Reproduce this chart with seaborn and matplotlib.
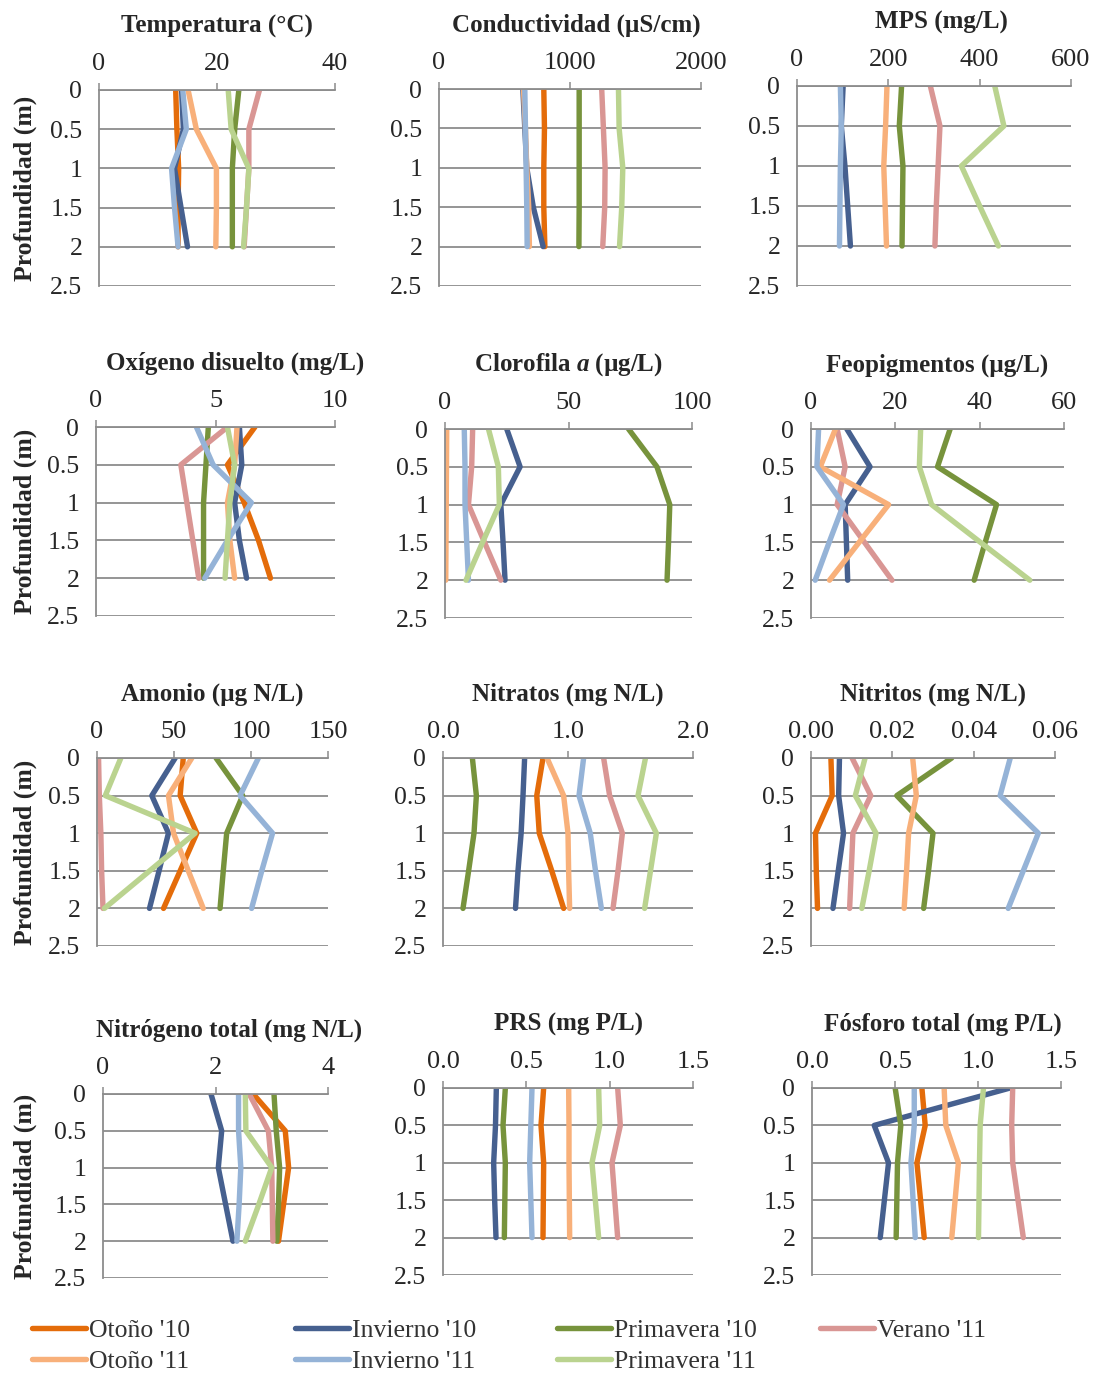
import numpy as np
import pandas as pd
import seaborn as sns
import matplotlib.pyplot as plt
from matplotlib.lines import Line2D
from matplotlib.ticker import FormatStrFormatter, FuncFormatter

############################################################################
depth = [0, 0.5, 1, 1.5, 2]
seasons = ["Otoño '10", "Invierno '10", "Primavera '10", "Verano '11",
           "Otoño '11", "Invierno '11", "Primavera '11"]
colors = ['#E46C0A', '#46608F', '#77933C', '#D99694', '#F8B07A', '#95B3D7', '#BAD38F']
nan = np.nan
nn = [nan] * 5

# one list per season, in the order of `seasons`
temperatura = [[13.0, 13.2, 13.5, 13.4, 13.4], [14.0, 14.3, 12.8, 13.9, 15.0],
               [23.7, 23.0, 22.6, 22.6, 22.6], [27.2, 25.4, 25.4, 25.0, 24.6],
               [15.1, 16.5, 19.9, 19.9, 19.8], [14.2, 14.8, 12.3, 12.8, 13.4],
               [21.9, 22.4, 25.4, 25.0, 24.5]]
conductividad = [[800, 805, 800, 800, 808], [640, 655, 670, 720, 795],
                 [1070, 1070, 1070, 1070, 1068], [1242, 1255, 1268, 1265, 1250],
                 [645, 660, 670, 685, 690], [655, 660, 665, 670, 673],
                 [1370, 1375, 1403, 1395, 1378]]
mps = [nn, [101, 97, 105, 111, 117], [229, 224, 232, 231, 230],
       [292, 313, 309, 305, 302], [197, 194, 190, 193, 196],
       [95, 97, 95, 94, 93], [433, 453, 360, 400, 441]]
oxigeno = [[6.65, 5.5, 6.2, 6.8, 7.3], [6.0, 6.1, 5.8, 6.0, 6.3],
           [4.7, 4.6, 4.5, 4.5, 4.5], [5.5, 3.55, 3.8, 4.05, 4.3],
           [5.9, 5.8, 5.5, 5.6, 5.8], [4.2, 4.9, 6.5, 5.5, 4.55],
           [5.5, 5.8, 5.6, 5.5, 5.4]]
clorofila = [nn, [25.0, 30.4, 22.6, 23.5, 24.3], [74.3, 85.8, 91.0, 90.5, 89.9],
             [11.2, 10.8, 9.5, 16.0, 22.6], [0.7, 0.6, 0.5, 0.4, 0.3],
             [7.8, 8.1, 8.1, 8.8, 9.5], [17.6, 21.6, 22.0, 15.2, 8.5]]
feopigmentos = [nn, [8.5, 14.0, 8.1, 8.4, 8.7], [33.0, 30.0, 44.0, 41.3, 38.7],
                [6.2, 8.1, 6.2, 12.7, 19.2], [5.8, 2.2, 18.4, 11.4, 4.4],
                [1.8, 1.4, 7.7, 4.3, 1.0], [26.0, 25.7, 28.6, 40.2, 51.9]]
amonio = [[56, 54, 64.8, 54, 43.2], [50.8, 35.6, 46.4, 40.3, 34.1],
          [77.3, 94.6, 84.2, 82, 79.9], [1, 1.5, 2.5, 3, 3.9],
          [61.6, 46.4, 49.7, 59.3, 69], [104.8, 92.9, 114, 107, 100.4],
          [15.5, 5.4, 63.7, 34.2, 4.8]]
nitratos = [[0.80, 0.75, 0.77, 0.87, 0.965], [0.653, 0.64, 0.625, 0.60, 0.58],
            [0.235, 0.267, 0.248, 0.205, 0.16], [1.285, 1.333, 1.435, 1.40, 1.36],
            [0.832, 0.965, 1.0, 1.005, 1.013], [1.125, 1.088, 1.178, 1.22, 1.267],
            [1.62, 1.56, 1.707, 1.66, 1.613]]
nitritos = [[0.0049, 0.0052, 0.0011, 0.0013, 0.0016], [0.0070, 0.0068, 0.0080, 0.0067, 0.0054],
            [0.0346, 0.0211, 0.0300, 0.0289, 0.0277], [0.0101, 0.0147, 0.0103, 0.0099, 0.0095],
            [0.0250, 0.0259, 0.0240, 0.0235, 0.0229], [0.0490, 0.0465, 0.0559, 0.0522, 0.0485],
            [0.0133, 0.0109, 0.0160, 0.0143, 0.0125]]
nitrogeno = [[2.67, 3.24, 3.30, 3.21, 3.12], [1.92, 2.11, 2.05, 2.18, 2.31],
             [3.04, 3.08, 3.14, 3.12, 3.09], [2.60, 2.94, 3.00, 3.01, 3.02],
             nn, [2.41, 2.41, 2.45, 2.42, 2.38], [2.53, 2.54, 3.00, 2.77, 2.53]]
prs = [[0.604, 0.588, 0.604, 0.602, 0.60], [0.32, 0.315, 0.304, 0.31, 0.318],
       [0.374, 0.36, 0.374, 0.371, 0.368], [1.048, 1.064, 1.014, 1.031, 1.048],
       [0.754, 0.756, 0.756, 0.758, 0.76], [0.534, 0.527, 0.52, 0.527, 0.534],
       [0.934, 0.94, 0.894, 0.914, 0.934]]
fosforo = [[0.662, 0.682, 0.632, 0.654, 0.676], [1.193, 0.375, 0.461, 0.436, 0.411],
           [0.501, 0.535, 0.515, 0.511, 0.507], [1.209, 1.203, 1.209, 1.241, 1.273],
           [0.796, 0.806, 0.882, 0.862, 0.842], [0.616, 0.616, 0.596, 0.609, 0.622],
           [1.033, 1.013, 1.009, 1.006, 1.003]]

# title, values, xmax, xstep, tick format, pixel box (x0, x1, y_top, y_2.5), title shift px
panels = [
    ("Temperatura (°C)", temperatura, 40, 20, '%g', (99, 335, 90, 286), 0),
    ("Conductividad (µS/cm)", conductividad, 2000, 1000, '%g', (439, 701, 89, 286), 6),
    ("MPS (mg/L)", mps, 600, 200, '%g', (797, 1071, 86, 286), 7),
    ("Oxígeno disuelto (mg/L)", oxigeno, 10, 5, '%g', (96, 335, 427, 616), 20),
    ("Clorofila $\\mathit{a}$ (µg/L)", clorofila, 100, 50, '%g', (445, 692, 429, 618), 0),
    ("Feopigmentos (µg/L)", feopigmentos, 60, 20, '%g', (811, 1064, 429, 618), 0),
    ("Amonio (µg N/L)", amonio, 150, 50, '%g', (97, 328, 758, 946), 0),
    ("Nitratos (mg N/L)", nitratos, 2.0, 1.0, '%.1f', (443, 693, 758, 946), 0),
    ("Nitritos (mg N/L)", nitritos, 0.06, 0.02, '%.2f', (811, 1055, 758, 946), 0),
    ("Nitrógeno total (mg N/L)", nitrogeno, 4, 2, '%g', (103, 328, 1094, 1278), 14),
    ("PRS (mg P/L)", prs, 1.5, 0.5, '%.1f', (443, 693, 1088, 1275), 0),
    ("Fósforo total (mg P/L)", fosforo, 1.5, 0.5, '%.1f', (812, 1061, 1088, 1275), 6),
]

############################################################################
sns.set_style("white")
plt.rcParams['font.family'] = ['Liberation Serif', 'DejaVu Serif']
plt.rcParams['mathtext.fontset'] = 'custom'
plt.rcParams['mathtext.it'] = 'Liberation Serif:italic:bold'
plt.rcParams['mathtext.rm'] = 'Liberation Serif:bold'

W, H = 1096, 1374
fig = plt.figure(figsize=(W / 100, H / 100), dpi=100)
palette = dict(zip(seasons, colors))
grey = '#8C8C8C'

for i, (title, vals, xmax, xstep, fmt, box, tshift) in enumerate(panels):
    x0, x1, yt, yb = box
    ax = fig.add_axes([x0 / W, 1 - yb / H, (x1 - x0) / W, (yb - yt) / H])
    df = pd.DataFrame([(s, d, v) for s, row in zip(seasons, vals) for d, v in zip(depth, row)],
                      columns=['Estacion', 'Profundidad', 'Valor']).dropna()
    sns.lineplot(data=df, x='Valor', y='Profundidad', hue='Estacion', hue_order=seasons,
                 palette=palette, orient='y', sort=True, lw=3.9, legend=False, ax=ax)
    ax.set_xlim(0, xmax)
    ax.set_ylim(2.5, 0)
    ax.set_xticks(np.arange(0, xmax + xstep / 2, xstep))
    ax.set_yticks([0, 0.5, 1, 1.5, 2, 2.5])
    ax.xaxis.set_major_formatter(FormatStrFormatter(fmt))
    ax.yaxis.set_major_formatter(FuncFormatter(lambda v, p: '%g' % v))
    ax.xaxis.tick_top()
    ax.tick_params(axis='x', which='major', direction='out', length=5, width=1.1,
                   color=grey, labelsize=19, pad=6)
    ax.tick_params(axis='y', which='major', direction='out', length=6, width=1.1,
                   color=grey, labelsize=18.5, pad=6)
    ax.grid(axis='y', color=grey, lw=1.3)
    ax.grid(axis='x', visible=False)
    for sp in ['bottom', 'right']:
        ax.spines[sp].set_visible(False)
    for sp in ['top', 'left']:
        ax.spines[sp].set_color(grey)
        ax.spines[sp].set_linewidth(1.3)
    ax.set_xlabel('')
    ax.set_ylabel('')
    ax.set_axisbelow(True)
    h = yb - yt
    ax.text(0.5 + tshift / (x1 - x0), 1 + 64 / h, title, transform=ax.transAxes,
            ha='center', va='center', fontsize=18, fontweight='bold')
    if i % 3 == 0:
        ax.text((25 - x0) / (x1 - x0), 0.5, 'Profundidad (m)', transform=ax.transAxes,
                rotation=90, ha='center', va='center', fontsize=18.5, fontweight='bold')

##############################Legend######################################
# one legend per column so the columns sit at fixed positions
legend_cols = [[0, 4], [1, 5], [2, 6], [3]]
col_x = [32, 295, 557, 820]
for cols, cx in zip(legend_cols, col_x):
    handles = [Line2D([], [], color=colors[k], lw=3.9) for k in cols]
    labels = [seasons[k] for k in cols]
    fig.legend(handles, labels, loc='upper left', bbox_to_anchor=(cx / W, 1 - 1319 / H),
               frameon=False, fontsize=18.5, handlelength=2.1, handletextpad=0.1,
               labelspacing=0.3, borderpad=0, borderaxespad=0, labelcolor='#333333')

plt.savefig('out.png', dpi=100)
